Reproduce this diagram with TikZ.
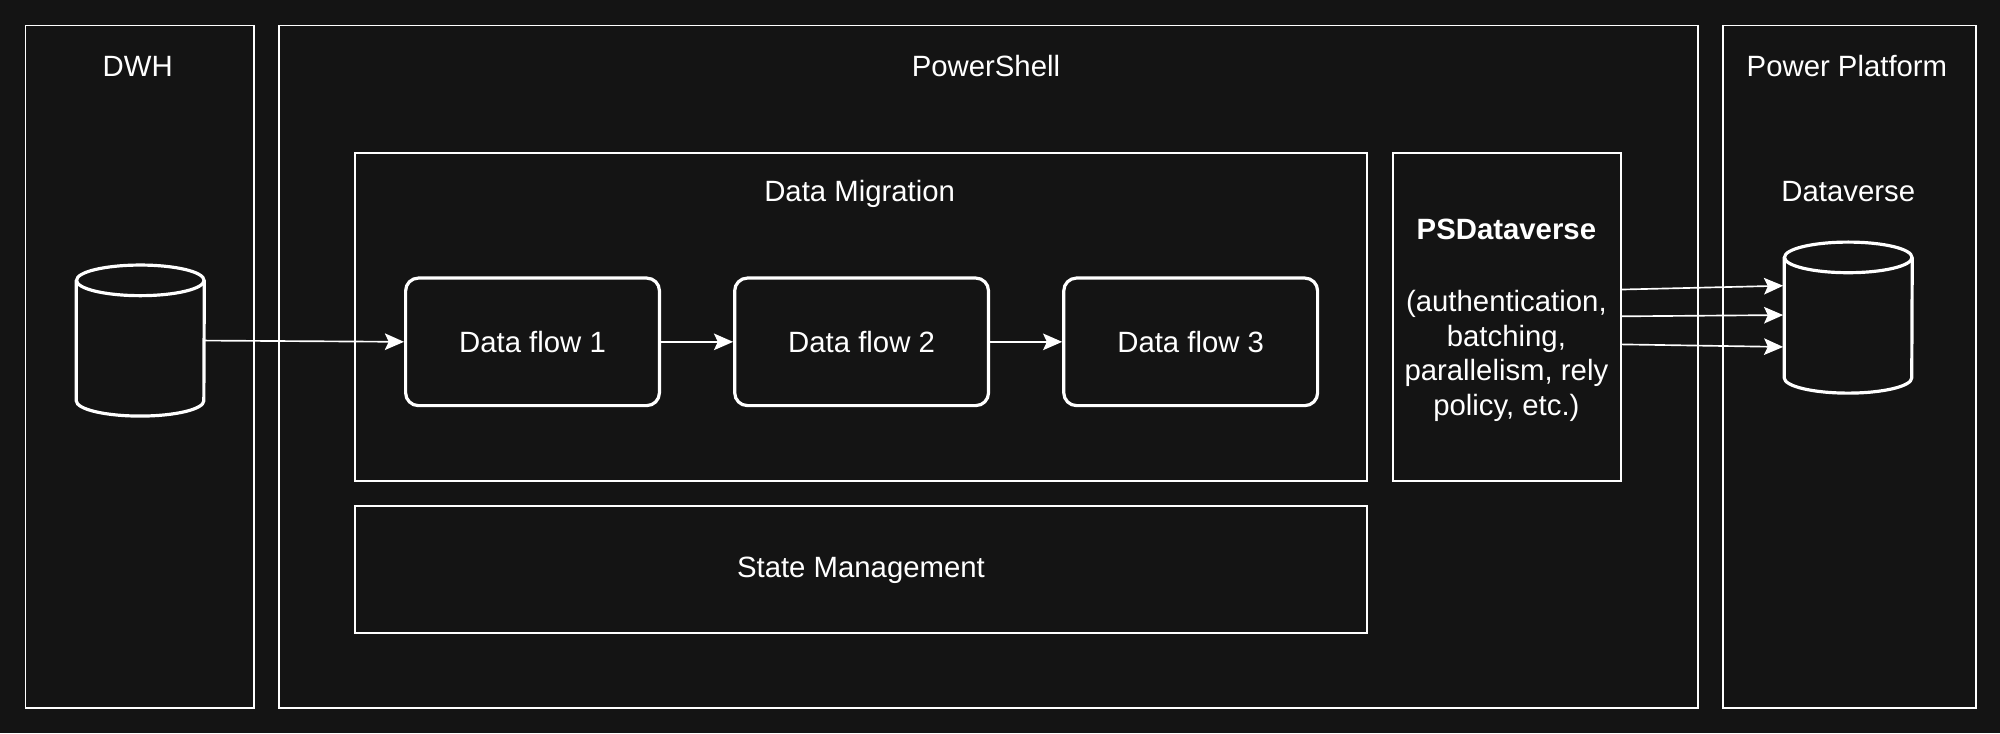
\documentclass[tikz,border=0pt]{standalone}
\usepackage{fontspec}
\setmainfont{Liberation Sans}
\usetikzlibrary{arrows.meta}
\definecolor{bg}{HTML}{141414}
\begin{document}
\begin{tikzpicture}[x=1pt,y=-1pt,
  every node/.style={text=white,font=\fontsize{23}{27}\selectfont},
  box/.style={draw=white,line width=1.5pt,rectangle,inner sep=0},
  flow/.style={draw=white,line width=2.5pt,rounded corners=10pt,minimum width=199pt,minimum height=100pt},
  cylbox/.style={draw=none,minimum width=100pt,minimum height=118pt,inner sep=0},
  cylline/.style={draw=white,line width=2.5pt},
  arr/.style={draw=white,line width=1.3pt,-{Stealth[length=15pt,width=13pt,inset=3pt]}}]
\fill[bg] (0,0) rectangle (1568,575);
\useasboundingbox (0,0) rectangle (1568,575);
\draw[box] (20,20) rectangle (199,555);
\draw[box] (219,20) rectangle (1331,555);
\draw[box] (1351,20) rectangle (1549,555);
\draw[box] (278,120) rectangle (1072,377);
\draw[box] (278,397) rectangle (1072,496);
\draw[box] (1092,120) rectangle (1271,377);
\node (dwhl) at (108,52) {DWH};
\node (psl) at (773,52) {PowerShell};
\node (ppl) at (1448,52) {Power Platform};
\node (dml) at (674,152) {Data Migration};
\node (sm) at (675,447) {State Management};
\node (dvl) at (1449,150) {Dataverse};
\node (psd) at (1181,180) {\bfseries PSDataverse};
\node[align=center] (psdt) at (1181,279) {(authentication,\\batching,\\parallelism, rely\\policy, etc.)};
\node[cylbox] (dwh) at (110,267) {};
\node[cylbox] (dv) at (1449,249) {};
\foreach \c in {dwh,dv}{
  \draw[cylline] ([yshift=-12pt]\c.north west) -- ([yshift=12pt]\c.south west)
     arc[start angle=180,end angle=360,x radius=50pt,y radius=12pt]
     -- ([yshift=-12pt]\c.north east);
  \draw[cylline] ([yshift=-12pt]\c.north) ellipse [x radius=50pt,y radius=12pt];
}
\node[flow] (f1) at (417.5,268) {Data flow 1};
\node[flow] (f2) at (675.5,268) {Data flow 2};
\node[flow] (f3) at (933.5,268) {Data flow 3};
\coordinate (p1) at (1271,227); \coordinate (q1) at (1398,224);
\coordinate (p2) at (1271,248); \coordinate (q2) at (1398,247);
\coordinate (p3) at (1271,270); \coordinate (q3) at (1398,272);
\draw[arr] (dwh.east) -- (f1.west);
\draw[arr] (f1) -- (f2);
\draw[arr] (f2) -- (f3);
\draw[arr] (p1) -- (q1);
\draw[arr] (p2) -- (q2);
\draw[arr] (p3) -- (q3);
\end{tikzpicture}
\end{document}
